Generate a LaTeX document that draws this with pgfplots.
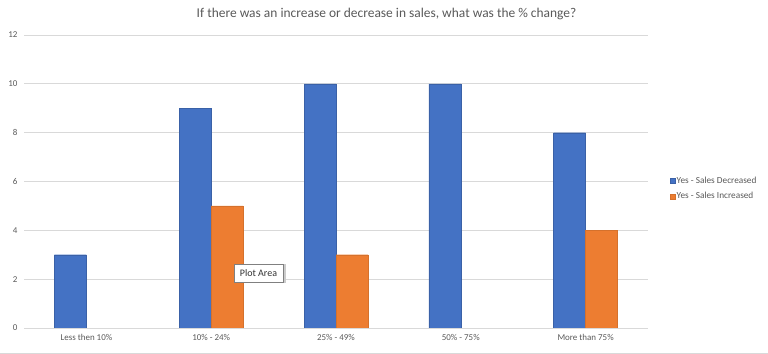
\documentclass[border=0pt]{standalone}
\usepackage{pgfplots}
\pgfplotsset{compat=1.18}
\usepackage{fontspec}
\setmainfont{Carlito}
\definecolor{xblue}{HTML}{4472C4}
\definecolor{xorange}{HTML}{ED7D31}
\definecolor{xgrid}{HTML}{D9D9D9}
\definecolor{xtext}{HTML}{595959}
\begin{document}
\begin{tikzpicture}
\useasboundingbox (0,0) rectangle (768bp,354bp);
\draw[xgrid, line width=1bp] (0,0.8bp) -- (768bp,0.8bp);
\begin{axis}[
  at={(24bp,26bp)}, anchor=south west,
  scale only axis, width=624bp, height=293bp,
  ybar=0pt, bar width=32bp,
  xmin=-0.5, xmax=4.5, ymin=0, ymax=12,
  xtick={0,1,2,3,4},
  xticklabels={Less then 10\%, 10\% - 24\%, 25\% - 49\%, 50\% - 75\%, More than 75\%},
  ytick={0,2,...,12},
  ymajorgrids, grid style={xgrid, line width=0.8bp},
  axis x line*=bottom, axis y line*=left,
  x axis line style={xgrid, line width=0.8bp},
  y axis line style={draw=none},
  major tick length=0pt,
  tick label style={font=\fontsize{9}{10}\selectfont, text=xtext},
  yticklabel style={xshift=-3bp},
  xticklabel style={yshift=-3bp},
  /pgf/number format/assume math mode=true,
  title={If there was an increase or decrease in sales, what was the \% change?},
  title style={font=\fontsize{13.5}{15}\selectfont, text=xtext, at={(0.581,1)}, yshift=6bp},
  legend style={draw=none, at={(1.03,0.476)}, anchor=west, font=\fontsize{9.3}{10}\selectfont, text=xtext, row sep=4bp, legend cell align=left, nodes={inner xsep=1.5bp}},
  legend image code/.code={\fill[#1] (2bp,-2.5bp) rectangle (7bp,2.5bp);},
]
\addplot[fill=xblue, draw=xblue!85!black, line width=0.3bp] coordinates {(0,3) (1,9) (2,10) (3,10) (4,8)};
\addplot[fill=xorange, draw=xorange!90!black, line width=0.3bp] coordinates {(1,5) (2,3) (4,4)};
\legend{Yes - Sales Decreased, Yes - Sales Increased}
\end{axis}
\fill[black!20] (235.5bp,70.5bp) rectangle (285.5bp,89.5bp);
\node[draw=black!50, fill=white, line width=0.6bp, inner sep=0pt, minimum width=49bp, minimum height=18bp, font=\fontsize{10}{11}\selectfont, text=black!80] at (258.5bp,81bp) {Plot Area};
\end{tikzpicture}
\end{document}
